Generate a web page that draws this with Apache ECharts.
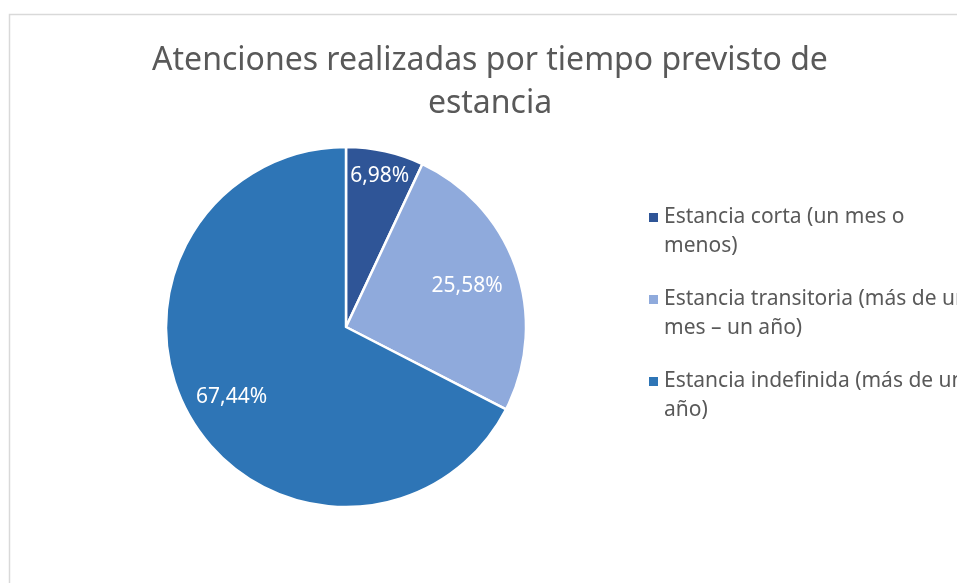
<!DOCTYPE html>
<html>
<head>
<meta charset="utf-8">
<script src="https://cdn.jsdelivr.net/npm/echarts@6/dist/echarts.min.js"></script>
<style>
  html, body { margin: 0; padding: 0; background: #fff; }
  #chart { width: 957px; height: 583px; }
</style>
</head>
<body>
<div id="chart"></div>
<script>
// datos
const categories = [
  'Estancia corta (un mes o menos)',
  'Estancia transitoria (más de un mes – un año)',
  'Estancia indefinida (más de un año)'
]
const values = [6.98, 25.58, 67.44]
// leyenda partida en dos líneas como en el original
const legendLines = [
  ['Estancia corta (un mes o', 'menos)'],
  ['Estancia transitoria (más de un', 'mes – un año)'],
  ['Estancia indefinida (más de un', 'año)']
]
const titleText = 'Atenciones realizadas por tiempo previsto de\nestancia'

const colors = ['#2F5597', '#8FAADC', '#2E75B6']
const CX = 346, CY = 327, R = 180
const labelRadius = [155, 128, 134]

const chart = echarts.init(document.getElementById('chart'))

const rich = {
  sp: { width: 6 },
  ind: { width: 15 },
  t: { fontSize: 21, lineHeight: 29, color: '#595959', fontFamily: 'Noto Sans' }
}
colors.forEach((c, i) => {
  rich['m' + i] = { width: 9, height: 9, backgroundColor: c }
})

chart.setOption({
  animation: false,
  color: colors,
  graphic: [
    {
      type: 'rect',
      shape: { x: 9.5, y: 14.5, width: 1200, height: 1000 },
      style: { fill: 'none', stroke: '#d9d9d9', lineWidth: 1.5 },
      silent: true
    },
    {
      type: 'text',
      x: 490,
      y: 39,
      style: {
        text: titleText,
        fontSize: 32,
        lineHeight: 43,
        fontFamily: 'Noto Sans',
        fill: '#595959',
        align: 'center',
        verticalAlign: 'top'
      }
    }
  ],
  legend: {
    orient: 'vertical',
    left: 639,
    top: 198,
    icon: 'none',
    itemWidth: 0,
    itemHeight: 0,
    itemGap: 24,
    data: categories,
    textStyle: { fontSize: 21, lineHeight: 29, color: '#595959', fontFamily: 'Noto Sans', rich: rich },
    formatter: function (name) {
      const i = categories.indexOf(name)
      const l = legendLines[i]
      return '{m' + i + '|}{sp|}{t|' + l[0] + '}\n{ind|}{t|' + l[1] + '}'
    }
  },
  series: [{
    type: 'pie',
    center: [CX, CY],
    radius: R,
    startAngle: 90,
    clockwise: true,
    data: categories.map((n, i) => ({ name: n, value: values[i] })),
    itemStyle: { borderColor: '#fff', borderWidth: 2.5 },
    label: {
      show: true,
      position: 'inside',
      rotate: 0,
      color: '#fff',
      fontSize: 21,
      fontFamily: 'Noto Sans',
      formatter: p => p.value.toFixed(2).replace('.', ',') + '%'
    },
    labelLine: { show: false },
    labelLayout: function (params) {
      const r = params.labelRect
      const lx = r.x + r.width / 2
      const ly = r.y + r.height / 2
      const dx = lx - CX, dy = ly - CY
      const len = Math.sqrt(dx * dx + dy * dy) || 1
      const k = labelRadius[params.dataIndex] / len
      return { dx: dx * k - dx, dy: dy * k - dy }
    },
    emphasis: { disabled: true }
  }]
})
</script>
</body>
</html>
